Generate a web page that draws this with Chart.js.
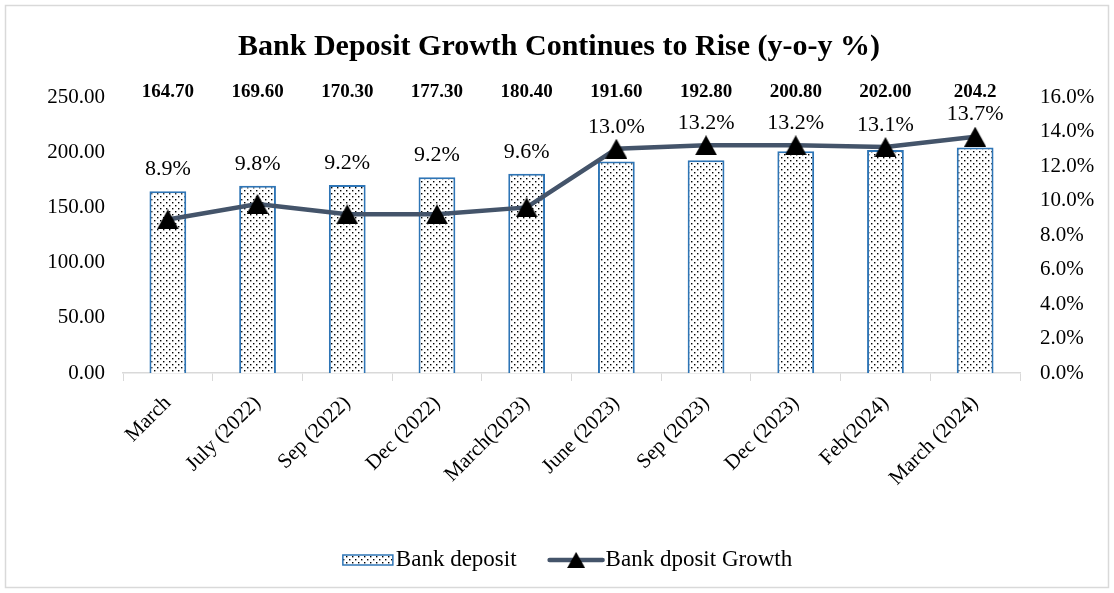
<!DOCTYPE html>
<html>
<head>
<meta charset="utf-8">
<script src="https://cdn.jsdelivr.net/npm/chart.js@4"></script>
<style>
body{margin:0;background:#fff}
#wrap{width:1114px;height:593px;position:relative}
</style>
</head>
<body>
<div id="wrap"><canvas id="depositChart"></canvas></div>
<script>
const periods = ["March","July (2022)","Sep (2022)","Dec (2022)","March(2023)","June (2023)","Sep (2023)","Dec (2023)","Feb(2024)","March (2024)"]
const depositValues = [164.70,169.60,170.30,177.30,180.40,191.60,192.80,200.80,202.00,204.2]
const depositLabels = ["164.70","169.60","170.30","177.30","180.40","191.60","192.80","200.80","202.00","204.2"]
const growthValues = [8.9,9.8,9.2,9.2,9.6,13.0,13.2,13.2,13.1,13.7]

const serif = "'Liberation Serif','Times New Roman',serif"

// dotted fill like the excel pattern
function makeDots(){
const c = document.createElement("canvas")
c.width = 6
c.height = 6
const g = c.getContext("2d")
g.fillStyle = "#fff"
g.fillRect(0,0,6,6)
g.fillStyle = "#000"
g.fillRect(1,1,1.4,1.4)
g.fillRect(4,4,1.4,1.4)
return g.createPattern(c,"repeat")
}
const dots = makeDots()

// triangle marker centred on its box, like excel
function makeTriangle(){
const c = document.createElement("canvas")
c.width = 22
c.height = 20
const g = c.getContext("2d")
g.fillStyle = "#000"
g.beginPath()
g.moveTo(11,0)
g.lineTo(22,20)
g.lineTo(0,20)
g.closePath()
g.fill()
return c
}
const triangle = makeTriangle()

const labelPlugin = {
id:"labels",
beforeDraw(chart){
const ctx = chart.ctx
ctx.save()
ctx.strokeStyle = "#d9d9d9"
ctx.lineWidth = 1.5
ctx.strokeRect(5.5,5.5,chart.width-11,chart.height-11)
ctx.restore()
},
afterDatasetsDraw(chart){
const ctx = chart.ctx
const area = chart.chartArea
const bars = chart.getDatasetMeta(1).data
ctx.save()
ctx.fillStyle = "#000"
ctx.textAlign = "center"
ctx.textBaseline = "middle"
ctx.font = "bold 19px " + serif
bars.forEach((el,i)=>{
ctx.fillText(depositLabels[i],el.x,area.top-5)
})
ctx.font = "22px " + serif
chart.getDatasetMeta(0).data.forEach((el,i)=>{
const y = Math.min(el.y-22,bars[i].y-22)
ctx.fillText(growthValues[i].toFixed(1)+"%",el.x,y)
})

// legend
const y = 560
const cx = (area.left+area.right)/2-4
ctx.font = "23px " + serif
ctx.textAlign = "left"
const t1 = "Bank deposit"
const t2 = "Bank dposit Growth"
const w1 = ctx.measureText(t1).width
const w2 = ctx.measureText(t2).width
const total = 50+3+w1+33+53+3+w2
let x = cx-total/2
ctx.fillStyle = dots
ctx.fillRect(x,y-5,50,10)
ctx.strokeStyle = "#2e75b6"
ctx.lineWidth = 1.5
ctx.strokeRect(x,y-5,50,10)
x += 53
ctx.fillStyle = "#000"
ctx.fillText(t1,x,y)
x += w1+33
ctx.strokeStyle = "#44546a"
ctx.lineWidth = 4.5
ctx.lineCap = "round"
ctx.beginPath()
ctx.moveTo(x,y)
ctx.lineTo(x+53,y)
ctx.stroke()
ctx.drawImage(triangle,x+26.5-9,y-8,18,16)
x += 56
ctx.fillText(t2,x,y)
ctx.restore()
}
}

new Chart(document.getElementById("depositChart").getContext("2d"),{
type:"bar",
data:{
labels:periods,
datasets:[{
type:"line",
label:"Bank dposit Growth",
data:growthValues,
yAxisID:"y1",
borderColor:"#44546a",
borderWidth:4.5,
pointStyle:triangle,
pointRadius:11,
tension:0,
order:0
},{
label:"Bank deposit",
data:depositValues,
yAxisID:"y",
backgroundColor:dots,
borderColor:"#2e75b6",
borderWidth:2,
barPercentage:0.41,
categoryPercentage:1,
order:1
}]
},
options:{
responsive:true,
maintainAspectRatio:false,
animation:false,
layout:{padding:{left:18,right:14,top:15,bottom:90}},
plugins:{
legend:{display:false},
tooltip:{enabled:false},
title:{
display:true,
text:"Bank Deposit Growth Continues to Rise (y-o-y %)",
color:"#000",
font:{family:serif,size:30,weight:"bold"},
padding:{top:14,bottom:32}
}
},
scales:{
x:{
grid:{display:true,drawOnChartArea:false,color:"#d9d9d9",tickLength:8,offset:true},
border:{color:"#d9d9d9",width:1.5},
ticks:{color:"#000",font:{family:serif,size:21},maxRotation:45,minRotation:45,padding:10},
afterFit(scale){scale.height=130}
},
y:{
position:"left",
min:0,
max:250,
grid:{display:false},
border:{display:false},
ticks:{stepSize:50,color:"#000",font:{family:serif,size:21},padding:10,callback:v=>v.toFixed(2)},
afterFit(scale){scale.width=105}
},
y1:{
position:"right",
min:0,
max:16,
grid:{display:false},
border:{display:false},
ticks:{stepSize:2,color:"#000",font:{family:serif,size:21},padding:12,callback:v=>v.toFixed(1)+"%"},
afterFit(scale){scale.width=80}
}
}
},
plugins:[labelPlugin]
})
</script>
</body>
</html>
